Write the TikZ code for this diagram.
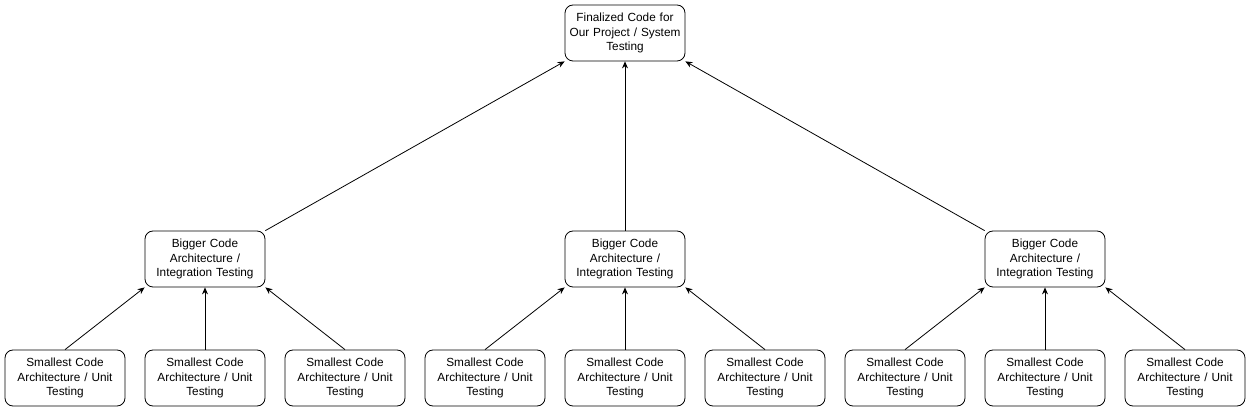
\documentclass[tikz,border=0pt]{standalone}
\usepackage{fontspec}
\setmainfont{Liberation Sans}
\usetikzlibrary{arrows.meta}
\begin{document}
\begin{tikzpicture}[x=1pt,y=-1pt,
  box/.style={draw, line width=0.8pt, rounded corners=8pt, minimum width=120pt, minimum height=56pt,
    inner sep=0pt, text width=118pt, align=center, font=\fontsize{11.8}{14.5}\selectfont},
  conn/.style={line width=0.8pt, -{Stealth[length=7pt,width=6pt]}}]
\useasboundingbox (0,0) rectangle (1251,411);
\node[box] (top) at (625,33) {Finalized Code for\\Our Project / System\\Testing};
\node[box] (m1) at (205,259) {Bigger Code\\Architecture /\\Integration Testing};
\node[box] (m2) at (625,259) {Bigger Code\\Architecture /\\Integration Testing};
\node[box] (m3) at (1045,259) {Bigger Code\\Architecture /\\Integration Testing};
\foreach \i/\x in {1/65,2/205,3/345,4/485,5/625,6/765,7/905,8/1045,9/1185}{
  \node[box] (b\i) at (\x,378) {Smallest Code\\Architecture / Unit\\Testing};
}
\draw[conn] (m1.north east) -- (top.south west);
\draw[conn] (m2.north) -- (top.south);
\draw[conn] (m3.north west) -- (top.south east);
\draw[conn] (b1.north) -- (m1.south west);
\draw[conn] (b2.north) -- (m1.south);
\draw[conn] (b3.north) -- (m1.south east);
\draw[conn] (b4.north) -- (m2.south west);
\draw[conn] (b5.north) -- (m2.south);
\draw[conn] (b6.north) -- (m2.south east);
\draw[conn] (b7.north) -- (m3.south west);
\draw[conn] (b8.north) -- (m3.south);
\draw[conn] (b9.north) -- (m3.south east);
\end{tikzpicture}
\end{document}
